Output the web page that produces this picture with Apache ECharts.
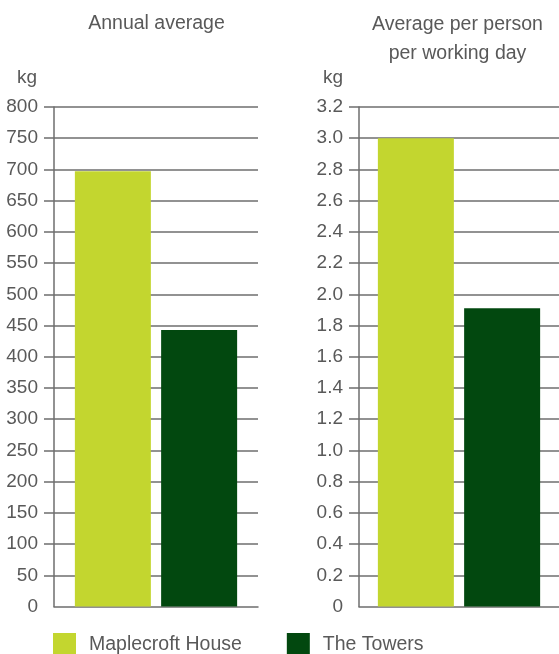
<!DOCTYPE html>
<html><head><meta charset="utf-8">
<script src="https://cdn.jsdelivr.net/npm/echarts@6/dist/echarts.min.js"></script>
<style>html,body{margin:0;padding:0;background:#fff}#c{width:559px;height:654px}</style>
</head><body><div id="c"></div>
<script>
var seriesNames = ['Maplecroft House', 'The Towers'];
var annualValues = [697, 443];
var perDayValues = [3.0, 1.91];
var leftTitle = 'Annual average';
var rightTitle = 'Average per person\nper working day';
var unitLabel = 'kg';
var leftTickValues = [50,100,150,200,250,300,350,400,450,500,550,600,650,700,750,800];
var rightTickValues = [0.2,0.4,0.6,0.8,1.0,1.2,1.4,1.6,1.8,2.0,2.2,2.4,2.6,2.8,3.0,3.2];
var colors = ['#c3d62f', '#02480f'];

var FONT = '"Liberation Sans", Arial, sans-serif';
var TXT = '#595959';
var LINE = '#6e6e6e';
var chart = echarts.init(document.getElementById('c'), null, {renderer: 'canvas'});

function yAxis(idx, max, interval, ticks, fmt) {
  return {
    type: 'value', gridIndex: idx, min: 0, max: max, interval: interval,
    axisLine: {show: true, lineStyle: {color: LINE, width: 1.5}},
    axisTick: {show: true, length: 10, customValues: ticks, lineStyle: {color: LINE, width: 1.5}},
    axisLabel: {margin: 16, color: TXT, fontSize: 19, fontFamily: FONT, formatter: fmt},
    splitLine: {show: true, lineStyle: {color: LINE, width: 1.5}}
  };
}
function xAxis(idx) {
  return {
    type: 'category', gridIndex: idx, data: [''],
    axisLine: {show: true, lineStyle: {color: LINE, width: 1.5}},
    axisTick: {show: false}, axisLabel: {show: false}, splitLine: {show: false}
  };
}

var series = [];
[annualValues, perDayValues].forEach(function (vals, g) {
  seriesNames.forEach(function (n, i) {
    series.push({
      type: 'bar', name: n, xAxisIndex: g, yAxisIndex: g,
      data: [vals[i]], barWidth: 76, barGap: '13.5%',
      itemStyle: {color: colors[i]}, silent: true, animation: false
    });
  });
});

chart.setOption({
  animation: false,
  textStyle: {fontFamily: FONT},
  title: [
    {text: leftTitle, left: 151.5, top: 9, textAlign: 'center',
     textStyle: {color: TXT, fontSize: 19.5, fontWeight: 'normal', fontFamily: FONT}},
    {text: rightTitle, left: 452.5, top: 5, textAlign: 'center',
     textStyle: {color: TXT, fontSize: 19.5, fontWeight: 'normal', fontFamily: FONT, lineHeight: 29}},
    {text: unitLabel, left: 32, top: 63, textAlign: 'right',
     textStyle: {color: TXT, fontSize: 19, fontWeight: 'normal', fontFamily: FONT}},
    {text: unitLabel, left: 338, top: 63, textAlign: 'right',
     textStyle: {color: TXT, fontSize: 19, fontWeight: 'normal', fontFamily: FONT}}
  ],
  legend: {
    data: seriesNames, left: 48, top: 628, itemWidth: 23, itemHeight: 23, itemGap: 45,
    icon: 'rect', selectedMode: false,
    textStyle: {color: TXT, fontSize: 19.5, fontFamily: FONT, padding: [0, 0, 0, 8]}
  },
  grid: [
    {left: 54, right: 301, top: 107, bottom: 47.5},
    {left: 359, right: 0, top: 107, bottom: 47.5}
  ],
  xAxis: [xAxis(0), xAxis(1)],
  yAxis: [
    yAxis(0, 800, 50, leftTickValues, function (v) { return String(v); }),
    yAxis(1, 3.2, 0.2, rightTickValues, function (v) { return v === 0 ? '0' : v.toFixed(1); })
  ],
  series: series
});
</script></body></html>
